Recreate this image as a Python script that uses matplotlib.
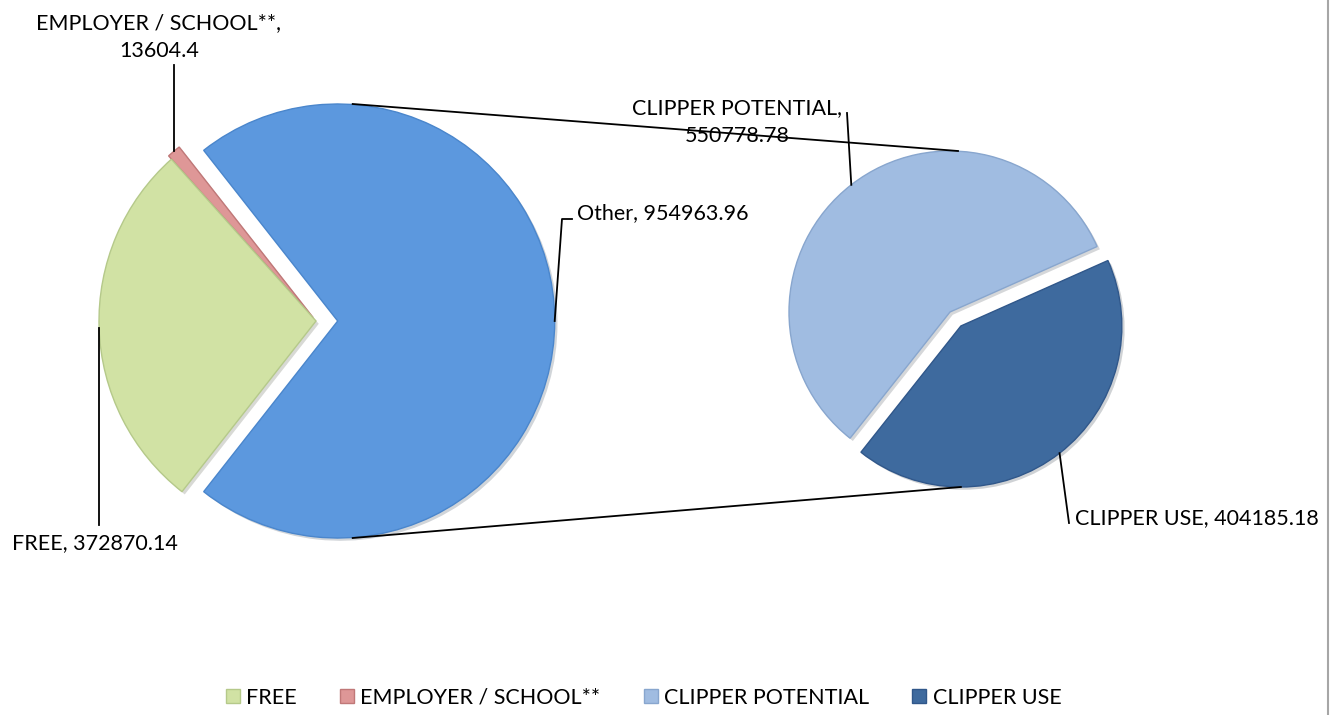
"""
Pie-of-pie chart: fare categories, with the "Other" slice broken out into Clipper use.
"""

import numpy as np
import matplotlib.patheffects as pe
from matplotlib import pyplot as plt
from matplotlib.lines import Line2D
from matplotlib.patches import Patch

plt.rcParams["font.family"] = ["Lato", "DejaVu Sans"]

# data
main_labels = ["Other", "EMPLOYER / SCHOOL**", "FREE"]
main_values = [954963.96, 13604.4, 372870.14]
sub_labels = ["CLIPPER POTENTIAL", "CLIPPER USE"]
sub_values = [550778.78, 404185.18]
legend_labels = ["FREE", "EMPLOYER / SCHOOL**", "CLIPPER POTENTIAL", "CLIPPER USE"]

colors = {
    "Other": "#5C98DE",
    "EMPLOYER / SCHOOL**": "#DE9797",
    "FREE": "#D1E2A4",
    "CLIPPER POTENTIAL": "#A0BCE1",
    "CLIPPER USE": "#3E6A9E",
}
edges = {
    "Other": "#4A86CC",
    "EMPLOYER / SCHOOL**": "#C07878",
    "FREE": "#B5C98A",
    "CLIPPER POTENTIAL": "#88A6CE",
    "CLIPPER USE": "#30578A",
}

W, H = 1338, 715
fig = plt.figure(figsize=(W / 100, H / 100), dpi=100)
ax = fig.add_axes([0, 0, 1, 1])

shadow = [pe.SimplePatchShadow(offset=(2, -2), alpha=0.2), pe.Normal()]

# main pie, "Other" centred on the right and pulled out a bit
# (explode is in data units here since the axes are in pixels)
main_r = 217
sub_r = 161
other_angle = 360 * main_values[0] / sum(main_values)
main_wedges, _ = ax.pie(
    main_values,
    colors=[colors[k] for k in main_labels],
    startangle=-other_angle / 2,
    explode=[0.1 * main_r, 0.02 * main_r, 0],
    radius=main_r,
    center=(316, H - 321),
    wedgeprops=dict(linewidth=1),
)

# secondary pie for the split of "Other"
sub_wedges, _ = ax.pie(
    sub_values,
    colors=[colors[k] for k in sub_labels],
    startangle=24,
    explode=[0, 0.11 * sub_r],
    radius=sub_r,
    center=(950, H - 312),
    wedgeprops=dict(linewidth=1),
)

for w, k in zip(list(main_wedges) + list(sub_wedges), main_labels + sub_labels):
    w.set_edgecolor(edges[k])
    w.set_path_effects(shadow)


def arc_point(w, frac=0.5):
    ang = np.deg2rad(w.theta1 + frac * (w.theta2 - w.theta1))
    return np.array(w.center) + w.r * np.array([np.cos(ang), np.sin(ang)])


# connector lines between the two pies
other_w, emp_w, free_w = main_wedges
pot_w, use_w = sub_wedges
ax.plot(
    [other_w.center[0] + 15, pot_w.center[0] + 8],
    [other_w.center[1] + other_w.r, pot_w.center[1] + pot_w.r],
    color="black", lw=1.3,
)
ax.plot(
    [other_w.center[0] + 15, use_w.center[0]],
    [other_w.center[1] - other_w.r, use_w.center[1] - use_w.r],
    color="black", lw=1.3,
)

fs = 15.5
lead = dict(color="black", lw=1.3)


def fmt(v):
    return f"{v:.2f}".rstrip("0").rstrip(".")


# EMPLOYER / SCHOOL label above the thin slice
p = arc_point(emp_w)
ax.plot([p[0], p[0]], [p[1], H - 65], **lead)
ax.text(159, H - 37, f"{main_labels[1]},\n{fmt(main_values[1])}", ha="center",
        va="center", fontsize=fs, linespacing=1.45)

# FREE label bottom left
p = arc_point(free_w)
ax.plot([p[0], p[0]], [p[1], H - 525], **lead)
ax.text(12, H - 543, f"{main_labels[2]}, {fmt(main_values[2])}", ha="left",
        va="center", fontsize=fs)

# Other label
p = arc_point(other_w)
ax.plot([p[0], 562, 572], [p[1], H - 219, H - 219], **lead)
ax.text(577, H - 213, f"{main_labels[0]}, {fmt(main_values[0])}", ha="left",
        va="center", fontsize=fs)

# CLIPPER POTENTIAL label
p = arc_point(pot_w)
ax.plot([p[0], 847], [p[1], H - 113], **lead)
ax.text(737, H - 122, f"{sub_labels[0]},\n{fmt(sub_values[0])}", ha="center",
        va="center", fontsize=fs, linespacing=1.45)

# CLIPPER USE label
p = arc_point(use_w)
ax.plot([p[0], 1069], [p[1], H - 523], **lead)
ax.text(1075, H - 518, f"{sub_labels[1]}, {fmt(sub_values[1])}", ha="left",
        va="center", fontsize=fs)

ax.set_xlim(0, W)
ax.set_ylim(0, H)
ax.set_aspect("equal")
ax.axis("off")

handles = [Patch(facecolor=colors[k], edgecolor=edges[k]) for k in legend_labels]
fig.legend(
    handles, legend_labels, loc="center", bbox_to_anchor=(0.481, 0.024),
    ncol=4, frameon=False, fontsize=fs, handlelength=0.65, handleheight=0.65,
    handletextpad=0.3, columnspacing=2.0,
)

# right border of the chart area
fig.add_artist(Line2D([1328 / W, 1328 / W], [0, 1], transform=fig.transFigure,
                      color="#A6A6A6", lw=1.5))

fig.savefig("out.png", dpi=100, facecolor="white")
